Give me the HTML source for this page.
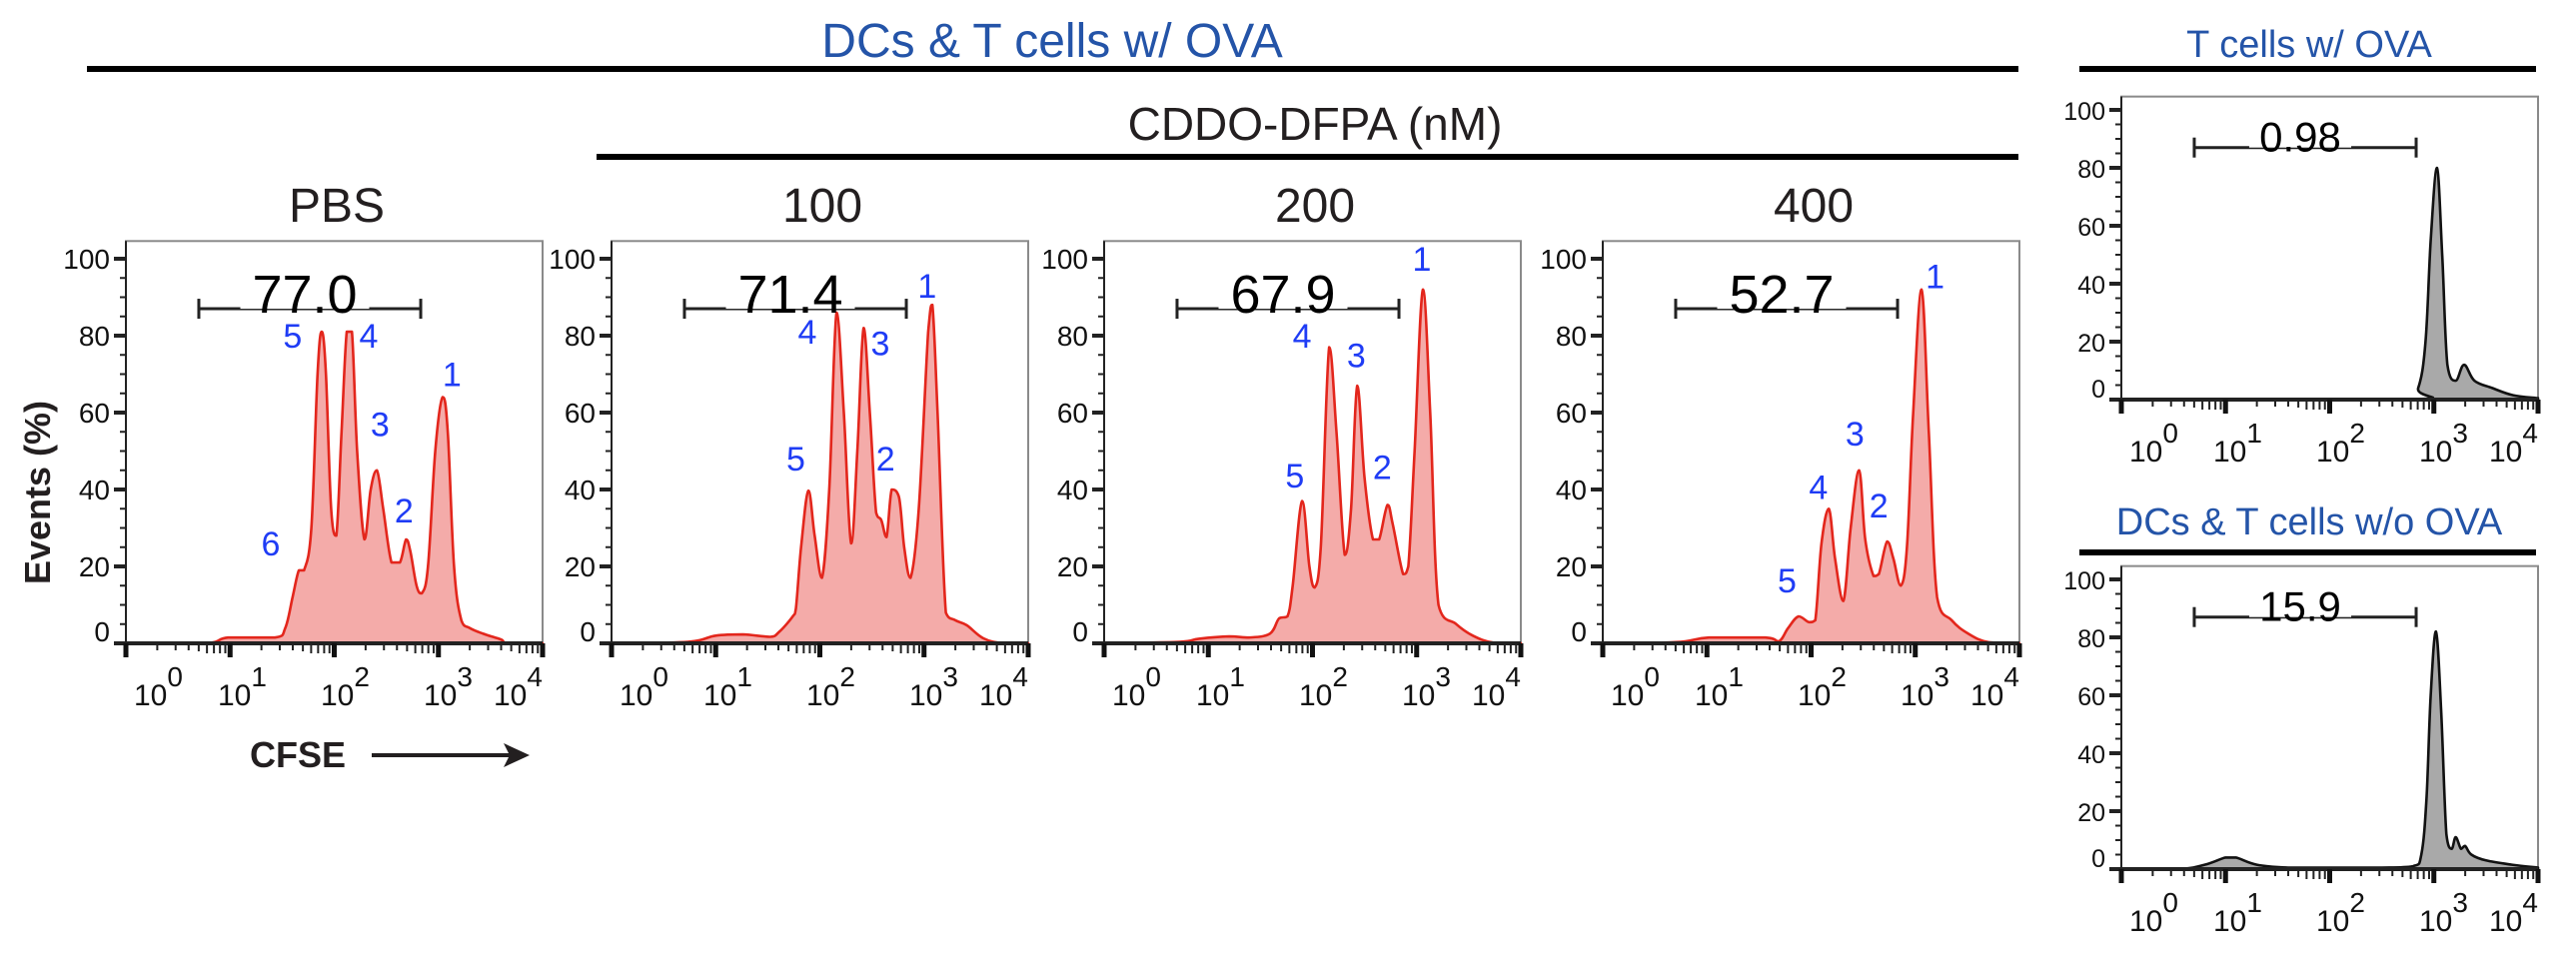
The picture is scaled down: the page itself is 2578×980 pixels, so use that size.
<!DOCTYPE html>
<html><head><meta charset="utf-8"><style>
html,body{margin:0;padding:0;background:#fff;}
svg{display:block;font-family:"Liberation Sans",Arial,sans-serif;}
</style></head><body>
<svg id="fig" width="2578" height="980" viewBox="0 0 2578 980" xmlns="http://www.w3.org/2000/svg">
<g>
<text x="1053" y="57" font-size="48" fill="#2454a8" text-anchor="middle">DCs &amp; T cells w/ OVA</text>
<rect x="87" y="66" width="1933" height="6" fill="#000"/>
<text x="2311" y="57" font-size="38" fill="#2454a8" text-anchor="middle">T cells w/ OVA</text>
<rect x="2081" y="66" width="457" height="6" fill="#000"/>
<text x="1316" y="140" font-size="46" fill="#231f20" text-anchor="middle">CDDO-DFPA (nM)</text>
<rect x="597" y="154" width="1423" height="6" fill="#000"/>
<text x="2311" y="535" font-size="38" fill="#2454a8" text-anchor="middle">DCs &amp; T cells w/o OVA</text>
<rect x="2081" y="550" width="457" height="6" fill="#000"/>
</g>
<text transform="translate(50,493) rotate(-90)" font-size="36" font-weight="bold" text-anchor="middle" fill="#231f20">Events (%)</text>
<text x="250" y="768" font-size="36" font-weight="bold" fill="#231f20">CFSE</text>
<g>
<line x1="372" y1="756" x2="510" y2="756" stroke="#231f20" stroke-width="4"/>
<polygon points="530,756 504,744 510,756 504,768" fill="#231f20"/>
</g>
<g id="plots"></g>
</svg>
<script>
// ---- data ----
const panelTitles = ["PBS", "100", "200", "400", "", ""];
const gateValues = ["77.0", "71.4", "67.9", "52.7", "0.98", "15.9"];
const gateLo = 0.70, gateHi = 2.83, gatePct = 87;
const yTicks = [0, 20, 40, 60, 80, 100];
const xDecades = [0, 1, 2, 3, 4];

const pbsLogX = [0,0.76,0.98,1.43,1.53,1.6,1.66,1.71,1.78,1.84,1.88,1.92,1.97,2.02,2.07,2.12,2.17,2.22,2.29,2.35,2.41,2.47,2.55,2.63,2.69,2.73,2.79,2.84,2.9,2.97,3.04,3.09,3.15,3.22,3.3,3.43,3.6,3.67,4];
const pbsPct  = [0,0,1.5,1.5,4,12,19,19,30,70,81,70,35,28,55,81,81,50,27,40,45,35,21,21,27,24,15,13,20,50,64,55,20,6,4,2.5,1,0,0];

const d100LogX = [0,0.73,1.0,1.26,1.52,1.61,1.74,1.77,1.82,1.89,1.95,2.02,2.09,2.16,2.23,2.3,2.36,2.42,2.48,2.54,2.59,2.64,2.69,2.76,2.81,2.87,2.95,3.04,3.08,3.13,3.21,3.3,3.41,3.57,3.76,4];
const d100Pct  = [0,0.4,2,2.3,1.7,3,7,9,25,39.7,28,17,40,86,60,26,50,82,60,34,32,27.6,40,38,25,17,35,81,88,60,8,6,4.7,1.3,0,0];

const d200LogX = [0,0.72,0.91,1.2,1.39,1.59,1.68,1.76,1.81,1.9,1.97,2.02,2.08,2.16,2.23,2.31,2.37,2.43,2.5,2.58,2.64,2.72,2.77,2.87,2.92,2.98,3.06,3.13,3.21,3.38,3.54,3.73,4];
const d200Pct  = [0,0.4,1.2,1.8,1.5,2.5,6.5,7,15,37,20,14.5,25,77,55,23,35,67,43,27,27,36,31,18,20,50,92,60,10,5,2,0.2,0];

const d400LogX = [0,0.7,1.02,1.56,1.69,1.78,1.88,1.98,2.04,2.1,2.17,2.23,2.31,2.38,2.46,2.52,2.6,2.65,2.73,2.79,2.86,2.92,2.98,3.06,3.13,3.21,3.35,3.51,3.7,4];
const d400Pct  = [0,0.3,1.5,1.5,0.5,4,7,5.5,6,26,35,22,11,30,45,27,17.5,18,26.5,22,15,25,60,92,55,12,6,2.5,0.3,0];

const tOvaLogX = [0,2.74,2.85,2.92,2.97,3.03,3.08,3.13,3.21,3.29,3.39,3.56,3.76,4];
const tOvaPct  = [0,0,4,20,55,80,50,12,6.5,12,6.5,4,1.5,0.5];

const noOvaLogX = [0,0.55,0.8,1.0,1.1,1.3,1.6,2.0,2.5,2.8,2.88,2.93,2.97,3.02,3.07,3.12,3.17,3.21,3.26,3.3,3.36,3.5,3.75,4];
const noOvaPct  = [0,0,1.5,4,4,1.5,0.5,0.5,0.5,1,5,25,60,82,55,12,7,11,7,8,5,3,1.5,0.5];

// peak labels
const pbsPeakX = [1.6,2.33,3.13,2.44,2.67,1.39], pbsPeakY = [80,80,70,57,34.5,26], pbsPeakT = ["5","4","1","3","2","6"];
const d100PeakX = [1.77,1.88,2.58,2.63,3.03], d100PeakY = [48,81,78,48,93], d100PeakT = ["5","4","3","2","1"];
const d200PeakX = [1.83,1.9,2.42,2.67,3.05], d200PeakY = [43.6,80,75,45.8,100], d200PeakT = ["5","4","3","2","1"];
const d400PeakX = [1.77,2.07,2.42,2.65,3.19], d400PeakY = [16.4,40.6,54.5,35.9,95.5], d400PeakT = ["5","4","3","2","1"];

// ---- layout ----
const NS = "http://www.w3.org/2000/svg";
const root = document.getElementById("plots");
const W = 417;
const panels = [
 {L:126, base:644, pp:3.85, xs:pbsLogX, ys:pbsPct, px:pbsPeakX, py:pbsPeakY, pt:pbsPeakT, fill:"#f4aba9", stroke:"#e3261c", name:"pbs", yfs:28},
 {L:612, base:644, pp:3.85, xs:d100LogX, ys:d100Pct, px:d100PeakX, py:d100PeakY, pt:d100PeakT, fill:"#f4aba9", stroke:"#e3261c", name:"cddo-100", yfs:28},
 {L:1105, base:644, pp:3.85, xs:d200LogX, ys:d200Pct, px:d200PeakX, py:d200PeakY, pt:d200PeakT, fill:"#f4aba9", stroke:"#e3261c", name:"cddo-200", yfs:28},
 {L:1604, base:644, pp:3.85, xs:d400LogX, ys:d400Pct, px:d400PeakX, py:d400PeakY, pt:d400PeakT, fill:"#f4aba9", stroke:"#e3261c", name:"cddo-400", yfs:28},
 {L:2123, base:400, pp:2.9, xs:tOvaLogX, ys:tOvaPct, px:[], py:[], pt:[], fill:"#a9a9a9", stroke:"#111", name:"t-cells-ova", yfs:25},
 {L:2123, base:870, pp:2.9, xs:noOvaLogX, ys:noOvaPct, px:[], py:[], pt:[], fill:"#a9a9a9", stroke:"#111", name:"no-ova", yfs:25}
];
const labelOff = [8, 92, 195, 298, 368];

function mk(tag, attrs, parent){ const e=document.createElementNS(NS,tag); for(const k in attrs) e.setAttribute(k,attrs[k]); (parent||root).appendChild(e); return e; }

function clamp(v, a, b){ const lo=Math.min(a,b), hi=Math.max(a,b); return Math.max(lo, Math.min(hi, v)); }
function smoothPath(pts) {
  let d = "";
  for (let i = 0; i < pts.length - 1; i++) {
    const p0 = pts[Math.max(i-1,0)], p1 = pts[i], p2 = pts[i+1], p3 = pts[Math.min(i+2, pts.length-1)];
    const t = 0.18;
    const c1x = p1[0] + (p2[0]-p0[0])*t, c1y = clamp(p1[1] + (p2[1]-p0[1])*t, p1[1], p2[1]);
    const c2x = p2[0] - (p3[0]-p1[0])*t, c2y = clamp(p2[1] - (p3[1]-p1[1])*t, p1[1], p2[1]);
    d += " C" + c1x.toFixed(1) + "," + c1y.toFixed(1) + " " + c2x.toFixed(1) + "," + c2y.toFixed(1) + " " + p2[0].toFixed(1) + "," + p2[1].toFixed(1);
  }
  return d;
}

panels.forEach((p, i) => {
  const xScale = v => p.L + v * W / 4;
  const yScale = v => p.base - v * p.pp;
  const g = mk("g", {});
  
  
  const top = yScale(104.6);
  const box = mk("rect", {x:p.L, y:top, width:W, height:p.base-top, fill:"none", stroke:"#8a8a8a", "stroke-width":2}, g);
  
  
  const pts = p.xs.map((x, k) => [xScale(x), yScale(p.ys[k])]);
  let d = "M" + pts[0][0] + "," + yScale(0) + " L" + pts[0][0].toFixed(1) + "," + pts[0][1].toFixed(1) + smoothPath(pts);
  d += " L" + pts[pts.length-1][0] + "," + yScale(0) + " Z";
  const area = mk("path", {d:d, fill:p.fill, stroke:p.stroke, "stroke-width":2.6, "stroke-linejoin":"round"}, g);
  
  
  const ya = mk("g", {}, g);
  
  
  mk("line", {x1:p.L, y1:top, x2:p.L, y2:p.base, stroke:"#222", "stroke-width":2}, ya);
  for (let v=0; v<=100; v+=5) {
    const major = v % 20 === 0;
    mk("line", {x1:p.L-(major?12:6), y1:yScale(v), x2:p.L, y2:yScale(v), stroke:"#222", "stroke-width":major?4:2}, ya);
  }
  yTicks.forEach(v => {
    const t = mk("text", {x:p.L-16, y:yScale(v) + (v===0 ? -2 : 10), "font-size":p.yfs, "text-anchor":"end", fill:"#111"}, ya);
    t.textContent = v;
    
    
  });
  const xa = mk("g", {}, g);
  
  
  mk("line", {x1:p.L, y1:p.base, x2:p.L+W, y2:p.base, stroke:"#222", "stroke-width":4}, xa);
  for (let dec=0; dec<4; dec++) {
    for (let m=2; m<=9; m++) {
      const x = xScale(dec + Math.log10(m));
      mk("line", {x1:x, y1:p.base, x2:x, y2:p.base+(m===5?8:(m>=6?10:7)), stroke:"#222", "stroke-width":2}, xa);
    }
  }
  xDecades.forEach((dec, k) => {
    const x = xScale(dec);
    mk("line", {x1:x, y1:p.base, x2:x, y2:p.base+14, stroke:"#111", "stroke-width":5}, xa);
    const t = mk("text", {x:p.L+labelOff[k], y:p.base+62, "font-size":30, fill:"#111"}, xa);
    
    
    t.appendChild(document.createTextNode("10"));
    const s = document.createElementNS(NS, "tspan");
    s.setAttribute("dy", "-19"); s.setAttribute("font-size", "28");
    s.textContent = dec;
    t.appendChild(s);
  });
  const gg = mk("g", {}, g);
  
  
  const gy = yScale(gatePct), gx1 = xScale(gateLo), gx2 = xScale(gateHi);
  mk("line", {x1:gx1, y1:gy, x2:gx2, y2:gy, stroke:"#222", "stroke-width":3}, gg);
  mk("line", {x1:gx1, y1:gy-10, x2:gx1, y2:gy+10, stroke:"#222", "stroke-width":3}, gg);
  mk("line", {x1:gx2, y1:gy-10, x2:gx2, y2:gy+10, stroke:"#222", "stroke-width":3}, gg);
  const big = i < 4;
  const fs = big ? 54 : 42;
  const cx = p.L + 179;
  const tw = fs * 0.56 * gateValues[i].length;
  mk("rect", {x:cx - tw/2 - 4, y:gy - fs*0.8, width:tw+8, height:fs*0.8, fill:"#fff"}, gg);
  const gt = mk("text", {x:cx, y:gy + 4, "font-size":fs, "text-anchor":"middle", fill:"#000"}, gg);
  gt.textContent = gateValues[i];
  
  
  p.px.forEach((lx, k) => {
    const t = mk("text", {x:xScale(lx), y:yScale(p.py[k]) + 12, "font-size":34, "text-anchor":"middle", fill:"#1f3cf5"}, g);
    t.textContent = p.pt[k];
    
    
  });
  if (panelTitles[i]) {
    const t = mk("text", {x:p.L + 211, y:222, "font-size":48, "text-anchor":"middle", fill:"#231f20"}, root);
    t.textContent = panelTitles[i];
    
    
  }
});
</script>
</body></html>
